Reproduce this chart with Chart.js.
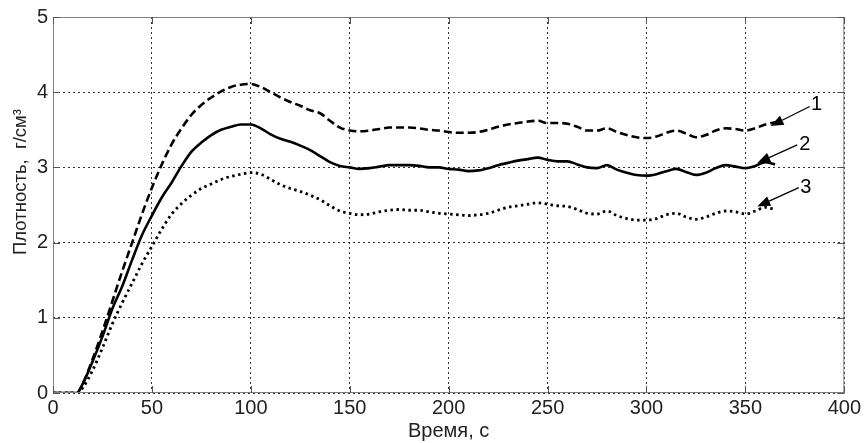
<!DOCTYPE html>
<html>
<head>
<meta charset="utf-8">
<script src="https://cdn.jsdelivr.net/npm/chart.js@4.4.0/dist/chart.umd.min.js"></script>
<style>
  html, body { margin: 0; padding: 0; background: #fff; }
  #wrap { width: 864px; height: 443px; }
</style>
</head>
<body>
<div id="wrap"><canvas id="densityChart"></canvas></div>
<script>
// time, s
const time = [0, 5, 10, 12, 15, 20, 25, 30, 35, 40, 45, 50, 55, 60, 65, 70, 75, 80, 85, 90,
  95, 100, 105, 110, 115, 120, 125, 130, 135, 140, 145, 150, 155, 160, 165, 170, 175, 180,
  185, 190, 195, 200, 205, 210, 215, 220, 225, 230, 235, 240, 245, 250, 255, 260, 265, 270,
  275, 280, 285, 290, 295, 300, 305, 310, 315, 320, 325, 330, 335, 340, 345, 350, 355, 360, 365];

// curve 1 (dashed)
const density1 = [0, 0, 0, 0, 0.12, 0.45, 0.82, 1.22, 1.62, 2.0, 2.38, 2.73, 3.04, 3.31, 3.52, 3.70, 3.83, 3.93, 4.01, 4.07,
  4.10, 4.11, 4.07, 4.0, 3.93, 3.87, 3.82, 3.76, 3.72, 3.62, 3.53, 3.49, 3.48, 3.49, 3.51, 3.53, 3.53, 3.53,
  3.52, 3.50, 3.49, 3.47, 3.46, 3.46, 3.47, 3.50, 3.54, 3.57, 3.59, 3.61, 3.62, 3.59, 3.59, 3.58, 3.54, 3.49,
  3.49, 3.52, 3.47, 3.43, 3.40, 3.39, 3.41, 3.46, 3.49, 3.45, 3.40, 3.43, 3.49, 3.52, 3.51, 3.49, 3.52, 3.57, 3.60];

// curve 2 (solid)
const density2 = [0, 0, 0, 0, 0.12, 0.42, 0.75, 1.12, 1.42, 1.77, 2.1, 2.36, 2.6, 2.8, 3.02, 3.21, 3.33, 3.43, 3.50, 3.54,
  3.57, 3.57, 3.52, 3.44, 3.38, 3.34, 3.29, 3.23, 3.15, 3.07, 3.02, 3.0, 2.98, 2.99, 3.01, 3.03, 3.03, 3.03,
  3.02, 3.0, 3.0, 2.98, 2.97, 2.95, 2.96, 2.99, 3.03, 3.06, 3.09, 3.11, 3.13, 3.10, 3.08, 3.08, 3.04, 3.0,
  2.99, 3.03, 2.97, 2.93, 2.90, 2.89, 2.91, 2.95, 2.98, 2.94, 2.90, 2.93, 2.99, 3.03, 3.01, 2.99, 3.02, 3.07, 3.04];

// curve 3 (dotted)
const density3 = [0, 0, 0, 0, 0.07, 0.30, 0.60, 0.92, 1.20, 1.46, 1.72, 1.95, 2.18, 2.38, 2.52, 2.63, 2.72, 2.78, 2.84, 2.88,
  2.91, 2.93, 2.91, 2.84, 2.77, 2.72, 2.68, 2.63, 2.57, 2.49, 2.42, 2.39, 2.37, 2.38, 2.41, 2.43, 2.44, 2.43,
  2.43, 2.41, 2.39, 2.38, 2.37, 2.36, 2.37, 2.39, 2.43, 2.47, 2.49, 2.51, 2.53, 2.51, 2.49, 2.48, 2.44, 2.39,
  2.38, 2.42, 2.36, 2.32, 2.30, 2.30, 2.32, 2.37, 2.39, 2.34, 2.31, 2.34, 2.39, 2.42, 2.41, 2.38, 2.42, 2.47, 2.44];

const xTicks = [0, 50, 100, 150, 200, 250, 300, 350, 400];
const yTicks = [0, 1, 2, 3, 4, 5];
const yTitle = 'Плотность,  г/см³';

// curve labels with arrows (data coordinates)
const arrowLabels = ['1', '2', '3'];
const labelX = [386, 380, 380.5];
const labelY = [3.84, 3.30, 2.73];
const tailX = [382.5, 376.2, 377];
const tailY = [3.81, 3.30, 2.73];
const tipX = [362.7, 356, 356];
const tipY = [3.55, 3.06, 2.48];

const FONT = '"Liberation Sans", Arial, sans-serif';
const toPoints = (ys) => time.map((t, i) => ({ x: t, y: ys[i] }));

const frameAndArrows = {
  id: 'frameAndArrows',
  afterDraw: (chart) => {
    const { ctx, chartArea, scales } = chart;
    const { left, right, top, bottom } = chartArea;
    ctx.save();
    // box
    ctx.strokeStyle = '#7f7f7f';
    ctx.lineWidth = 1;
    ctx.setLineDash([]);
    ctx.strokeRect(left + 0.5, top + 0.5, right - left - 1, bottom - top - 1);
    // inward ticks
    ctx.strokeStyle = '#555';
    ctx.beginPath();
    xTicks.forEach(v => {
      const px = Math.round(scales.x.getPixelForValue(v)) + 0.5;
      ctx.moveTo(px, bottom); ctx.lineTo(px, bottom - 7);
      ctx.moveTo(px, top); ctx.lineTo(px, top + 7);
    });
    yTicks.forEach(v => {
      const py = Math.round(scales.y.getPixelForValue(v)) + 0.5;
      ctx.moveTo(left, py); ctx.lineTo(left + 7, py);
      ctx.moveTo(right, py); ctx.lineTo(right - 7, py);
    });
    ctx.stroke();
    // y axis title
    ctx.fillStyle = '#222';
    ctx.font = '18.5px ' + FONT;
    ctx.textAlign = 'center';
    ctx.textBaseline = 'middle';
    ctx.save();
    ctx.translate(21, 182);
    ctx.rotate(-Math.PI / 2);
    ctx.fillText(yTitle, 0, 0);
    ctx.restore();
    // arrows
    ctx.strokeStyle = '#000';
    ctx.fillStyle = '#000';
    ctx.lineWidth = 1.3;
    arrowLabels.forEach((lab, i) => {
      const x1 = scales.x.getPixelForValue(tailX[i]);
      const y1 = scales.y.getPixelForValue(tailY[i]);
      const x2 = scales.x.getPixelForValue(tipX[i]);
      const y2 = scales.y.getPixelForValue(tipY[i]);
      const ang = Math.atan2(y2 - y1, x2 - x1);
      const len = 13, half = 5;
      const bx = x2 - len * Math.cos(ang), by = y2 - len * Math.sin(ang);
      ctx.beginPath();
      ctx.moveTo(x1, y1); ctx.lineTo(bx, by);
      ctx.stroke();
      ctx.beginPath();
      ctx.moveTo(x2, y2);
      ctx.lineTo(bx + half * Math.sin(ang), by - half * Math.cos(ang));
      ctx.lineTo(bx - half * Math.sin(ang), by + half * Math.cos(ang));
      ctx.closePath();
      ctx.fill();
      ctx.font = '20px ' + FONT;
      ctx.textAlign = 'center';
      ctx.textBaseline = 'middle';
      ctx.fillText(lab, scales.x.getPixelForValue(labelX[i]), scales.y.getPixelForValue(labelY[i]));
    });
    ctx.restore();
  }
};

const lineStyle = {
  borderColor: '#000',
  borderWidth: 2.6,
  pointRadius: 0,
  fill: false,
  cubicInterpolationMode: 'monotone'
};

const gridStyle = {
  color: 'rgba(0,0,0,0.8)',
  lineWidth: 1,
  drawTicks: false
};

new Chart(document.getElementById('densityChart'), {
  type: 'line',
  data: {
    datasets: [
      { label: '1', data: toPoints(density1), ...lineStyle, borderDash: [8, 4] },
      { label: '2', data: toPoints(density2), ...lineStyle },
      { label: '3', data: toPoints(density3), ...lineStyle, borderDash: [2.5, 3.5], borderWidth: 2.8 }
    ]
  },
  options: {
    responsive: true,
    maintainAspectRatio: false,
    animation: false,
    layout: { padding: { left: 0, right: 18, top: 17, bottom: 0 } },
    plugins: {
      legend: { display: false },
      tooltip: { enabled: false }
    },
    scales: {
      x: {
        type: 'linear',
        min: 0,
        max: 400,
        afterBuildTicks: (scale) => { scale.ticks = xTicks.map(v => ({ value: v })); },
        grid: gridStyle,
        border: { display: false, dash: [2, 3] },
        ticks: {
          color: '#222',
          padding: 3,
          maxRotation: 0,
          font: { family: FONT, size: 20 }
        },
        title: {
          display: true,
          text: 'Время, с',
          color: '#222',
          padding: { top: 0, bottom: 0 },
          font: { family: FONT, size: 20 }
        },
        afterFit: (scale) => { scale.height = 50; }
      },
      y: {
        min: 0,
        max: 5,
        afterBuildTicks: (scale) => { scale.ticks = yTicks.map(v => ({ value: v })); },
        grid: gridStyle,
        border: { display: false, dash: [2, 3] },
        ticks: {
          color: '#222',
          padding: 5,
          font: { family: FONT, size: 20 }
        },
        afterFit: (scale) => { scale.width = 53; }
      }
    }
  },
  plugins: [frameAndArrows]
});
</script>
</body>
</html>
